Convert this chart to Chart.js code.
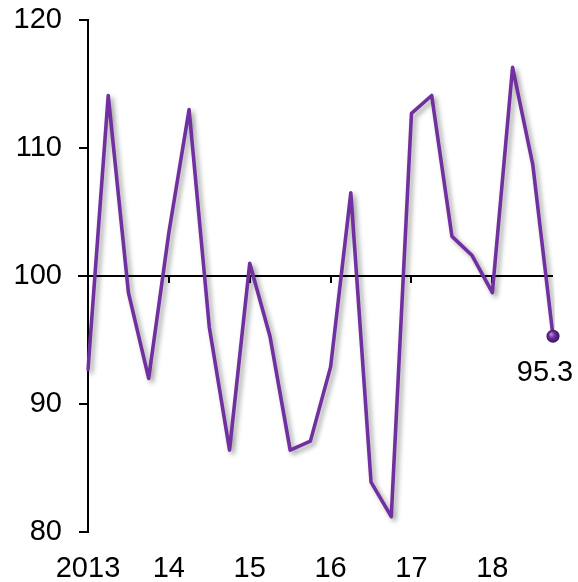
<!DOCTYPE html>
<html>
<head>
<meta charset="utf-8">
<script src="https://cdn.jsdelivr.net/npm/chart.js@4/dist/chart.umd.min.js"></script>
<style>
  html, body { margin: 0; padding: 0; background: #ffffff; }
  #wrap { width: 578px; height: 582px; }
</style>
</head>
<body>
<div id="wrap"><canvas id="c" width="578" height="582"></canvas></div>
<script>
// Quarterly index, 2013 Q1 – 2018 Q4
const quarters = [
  '2013Q1','2013Q2','2013Q3','2013Q4',
  '2014Q1','2014Q2','2014Q3','2014Q4',
  '2015Q1','2015Q2','2015Q3','2015Q4',
  '2016Q1','2016Q2','2016Q3','2016Q4',
  '2017Q1','2017Q2','2017Q3','2017Q4',
  '2018Q1','2018Q2','2018Q3','2018Q4'
];
const indexValues = [
  92.7, 114.1, 98.7, 92.0,
  103.4, 113.0, 96.0, 86.4,
  101.0, 95.3, 86.4, 87.1,
  92.9, 106.5, 83.9, 81.2,
  112.7, 114.1, 103.1, 101.6,
  98.7, 116.3, 108.7, 95.3
];
const yearLabels = ['2013', '14', '15', '16', '17', '18'];
const yTicks = [80, 90, 100, 110, 120];
const baseline = 100;
const lastLabel = '95.3';

const FONT = 'Liberation Sans, Arial, sans-serif';
const FONT_SIZE = 29;
const PURPLE = '#7030A0';

// Soft drop shadow under the series line
const shadowPlugin = {
  id: 'lineShadow',
  beforeDatasetDraw(chart) {
    const ctx = chart.ctx;
    ctx.save();
    ctx.shadowColor = 'rgba(0,0,0,0.38)';
    ctx.shadowBlur = 5;
    ctx.shadowOffsetX = 3;
    ctx.shadowOffsetY = 3;
  },
  afterDatasetDraw(chart) {
    chart.ctx.restore();
  }
};

// Horizontal axis line at 100 with downward ticks at each year start
const baselinePlugin = {
  id: 'baseline',
  beforeDatasetsDraw(chart) {
    const { ctx, scales: { x, y } } = chart;
    const py = Math.round(y.getPixelForValue(baseline));
    ctx.save();
    ctx.strokeStyle = '#000';
    ctx.lineWidth = 2;
    ctx.beginPath();
    ctx.moveTo(x.left - 10, py);
    ctx.lineTo(x.right, py);
    ctx.stroke();
    ctx.beginPath();
    for (let i = 4; i < quarters.length; i += 4) {
      const px = Math.round(x.getPixelForValue(i));
      ctx.moveTo(px, py);
      ctx.lineTo(px, py + 7);
    }
    ctx.stroke();
    ctx.restore();
  }
};

// Shaded marker and value label on the latest point
const endPointPlugin = {
  id: 'endPoint',
  afterDatasetsDraw(chart) {
    const { ctx } = chart;
    const meta = chart.getDatasetMeta(0);
    const pt = meta.data[meta.data.length - 1];
    const r = 6.5;
    ctx.save();
    const g = ctx.createRadialGradient(pt.x - 2, pt.y - 2, 0.5, pt.x, pt.y, r);
    g.addColorStop(0, '#b58ad6');
    g.addColorStop(0.45, '#6a2c98');
    g.addColorStop(1, '#3d1260');
    ctx.fillStyle = g;
    ctx.beginPath();
    ctx.arc(pt.x, pt.y, r, 0, Math.PI * 2);
    ctx.fill();
    ctx.fillStyle = '#000';
    ctx.font = FONT_SIZE + 'px ' + FONT;
    ctx.textAlign = 'center';
    ctx.textBaseline = 'middle';
    ctx.fillText(lastLabel, pt.x - 8, pt.y + 37);
    ctx.restore();
  }
};

new Chart(document.getElementById('c'), {
  type: 'line',
  data: {
    labels: quarters,
    datasets: [{
      data: indexValues,
      borderColor: PURPLE,
      borderWidth: 3.6,
      borderJoinStyle: 'round',
      borderCapStyle: 'round',
      pointRadius: 0,
      tension: 0,
      fill: false
    }]
  },
  options: {
    responsive: false,
    animation: false,
    layout: { padding: { top: 20, right: 25, left: 0, bottom: 0 } },
    plugins: { legend: { display: false }, tooltip: { enabled: false } },
    scales: {
      x: {
        type: 'category',
        offset: false,
        grid: { display: false },
        border: { display: false },
        afterFit(scale) {
          scale.height = 50;
          scale.paddingLeft = 0;
          scale.paddingRight = 0;
        },
        ticks: {
          autoSkip: false,
          maxRotation: 0,
          padding: 12,
          color: '#000',
          font: { family: FONT, size: FONT_SIZE },
          callback(value, index) {
            return index % 4 === 0 ? yearLabels[index / 4] : '';
          }
        }
      },
      y: {
        min: yTicks[0],
        max: yTicks[yTicks.length - 1],
        afterFit(scale) {
          scale.width = 88;
          scale.paddingTop = 0;
          scale.paddingBottom = 0;
        },
        afterBuildTicks(scale) { scale.ticks = yTicks.map(v => ({ value: v })); },
        grid: {
          drawOnChartArea: false,
          drawTicks: true,
          tickLength: 9,
          color: '#000',
          lineWidth: 2
        },
        border: { display: true, color: '#000', width: 2 },
        ticks: {
          padding: 17,
          color: '#000',
          font: { family: FONT, size: FONT_SIZE }
        }
      }
    }
  },
  plugins: [baselinePlugin, shadowPlugin, endPointPlugin]
});
</script>
</body>
</html>
